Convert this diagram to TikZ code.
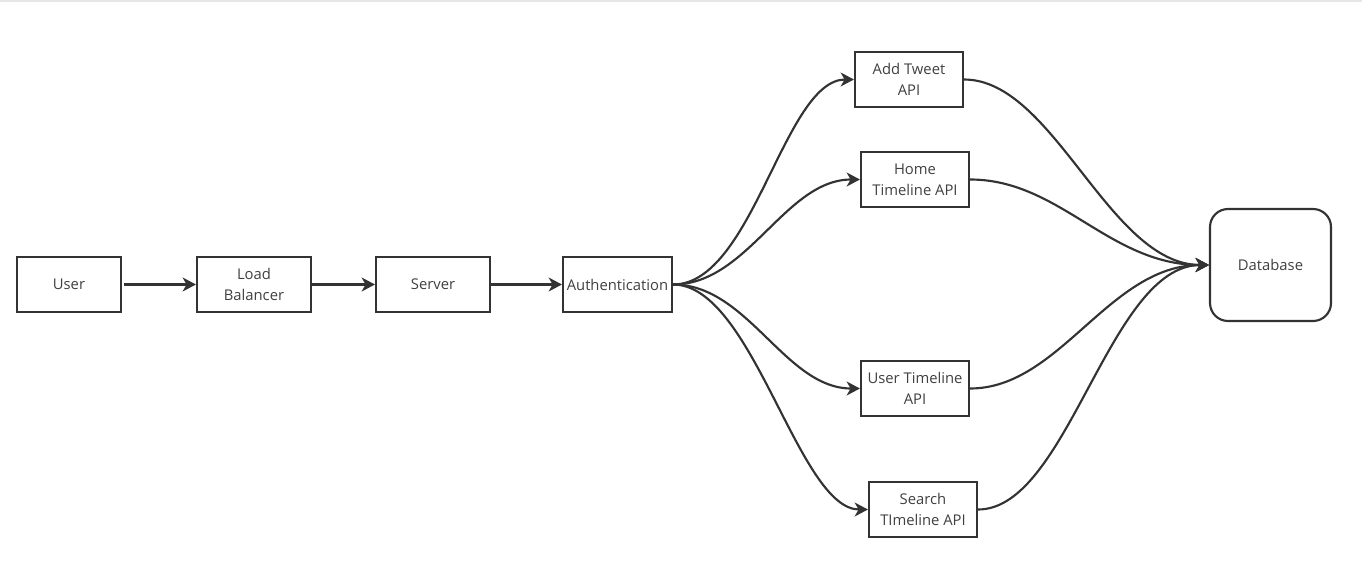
\documentclass[tikz,border=0pt]{standalone}
\usepackage{fontspec}
\setmainfont{Open Sans}
\usetikzlibrary{arrows.meta}
\definecolor{edge}{HTML}{333333}
\definecolor{txt}{HTML}{404040}
\definecolor{rule}{HTML}{E6E6E6}
\begin{document}
\begin{tikzpicture}[x=0.75pt,y=-0.75pt,
  box/.style={draw=edge,line width=1.6pt,fill=white,inner sep=0pt,align=center,
    font=\fontsize{11.1}{16}\selectfont,text=txt},
  link/.style={draw=edge,line width=1.6pt,-{Stealth[length=10pt,width=10.5pt,inset=3pt]}}]
\useasboundingbox (0,0) rectangle (1362,563);
\fill[white] (0,0) rectangle (1362,563);
\draw[rule,line width=1.5pt] (0,1) -- (1362,1);

% pipeline boxes
\node[box,minimum width=104*0.75pt,minimum height=55*0.75pt] (user) at (69,284.5) {User};
\node[box,minimum width=114*0.75pt,minimum height=55*0.75pt] (lb) at (254,284.5) {Load\\Balancer};
\node[box,minimum width=114*0.75pt,minimum height=55*0.75pt] (server) at (433,284.5) {Server};
\node[box,minimum width=109*0.75pt,minimum height=55*0.75pt] (auth) at (617.5,284.5) {Authentication};

% API boxes
\node[box,minimum width=108*0.75pt,minimum height=55*0.75pt] (add) at (909,79.5) {Add Tweet\\API};
\node[box,minimum width=108*0.75pt,minimum height=55*0.75pt] (home) at (915,179.5) {Home\\Timeline API};
\node[box,minimum width=108*0.75pt,minimum height=55*0.75pt] (utl) at (915,388.5) {User Timeline\\API};
\node[box,minimum width=108*0.75pt,minimum height=55*0.75pt] (stl) at (923,509.5) {Search\\TImeline API};

% storage
\node[box,rounded corners=18*0.75pt,minimum width=121*0.75pt,minimum height=112*0.75pt] (db) at (1270.5,265) {Database};

% straight hops
\draw[link,shorten <=1.5pt] (user) -- (lb);
\draw[link] (lb) -- (server);
\draw[link] (server) -- (auth);

% fan-out from authentication
\draw[link] (auth.east) .. controls +(80,0) and +(-70,0) .. (add.west);
\draw[link] (auth.east) .. controls +(75,0) and +(-75,0) .. (home.west);
\draw[link] (auth.east) .. controls +(75,0) and +(-75,0) .. (utl.west);
\draw[link] (auth.east) .. controls +(80,0) and +(-70,0) .. (stl.west);

% fan-in to the database
\draw[link] (add.east) .. controls +(90,0) and +(-100,0) .. (db.west);
\draw[link] (home.east) .. controls +(90,0) and +(-100,0) .. (db.west);
\draw[link] (utl.east) .. controls +(90,0) and +(-100,0) .. (db.west);
\draw[link] (stl.east) .. controls +(90,0) and +(-100,0) .. (db.west);
\end{tikzpicture}
\end{document}
